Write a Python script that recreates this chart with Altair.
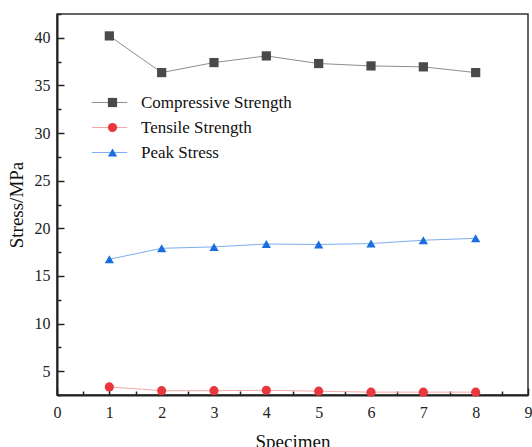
import altair as alt
import pandas as pd

specimen = [1, 2, 3, 4, 5, 6, 7, 8]
compressive = [40.2, 36.35, 37.4, 38.1, 37.3, 37.05, 36.95, 36.35]
tensile = [3.35, 2.95, 2.95, 3.0, 2.9, 2.8, 2.8, 2.8]
peak = [16.75, 17.9, 18.05, 18.35, 18.3, 18.4, 18.75, 18.95]

series = ["Compressive Strength", "Tensile Strength", "Peak Stress"]
marker_colors = ["#4a4a4a", "#e8383d", "#1a6fdc"]
line_colors = ["#8f8f8f", "#f6a8a8", "#7eaeee"]
shapes = ["square", "circle", "triangle-up"]

x_major = [0, 1, 2, 3, 4, 5, 6, 7, 8, 9]
x_minor = [0.5, 1.5, 2.5, 3.5, 4.5, 5.5, 6.5, 7.5, 8.5]
y_major = [5, 10, 15, 20, 25, 30, 35, 40]
y_minor = [2.5, 7.5, 12.5, 17.5, 22.5, 27.5, 32.5, 37.5, 42.5]

rows = []
for name, vals in zip(series, [compressive, tensile, peak]):
    for s, v in zip(specimen, vals):
        rows.append({"Specimen": s, "Stress": v, "Series": name, "Marker": name})
df = pd.DataFrame(rows)

FONT = "Liberation Serif"
xdom = [0, 9]
ydom = [2.5, 42.5]

base = alt.Chart(df)

# layer 1: lines + labelled axes
lines = base.mark_line(strokeWidth=1).encode(
    x=alt.X("Specimen:Q", scale=alt.Scale(domain=xdom, nice=False, zero=False),
            axis=alt.Axis(values=x_major, title="Specimen", orient="bottom", tickSize=0,
                          labelPadding=9, titlePadding=12, grid=False, domainWidth=2,
                          domainColor="#222222", labelFlush=False,
                          labelFont=FONT, titleFont=FONT)),
    y=alt.Y("Stress:Q", scale=alt.Scale(domain=ydom, nice=False, zero=False),
            axis=alt.Axis(values=y_major, title="Stress/MPa", orient="left", tickSize=0,
                          labelPadding=7, titlePadding=8, grid=False, domainWidth=2,
                          domainColor="#222222", labelFont=FONT, titleFont=FONT)),
    stroke=alt.Stroke("Series:N", sort=series,
                      scale=alt.Scale(domain=series, range=line_colors),
                      legend=alt.Legend(title=None, orient="none", legendX=44, legendY=80,
                                        symbolType="M-7.25,0H7.25", symbolSize=24,
                                        symbolStrokeWidth=1, labelExpr="''",
                                        labelFontSize=17, rowPadding=7, padding=0)),
)

# layer 2: markers + major inward ticks
points = base.mark_point(filled=True, size=85, opacity=1, strokeWidth=0).encode(
    x=alt.X("Specimen:Q", scale=alt.Scale(domain=xdom, nice=False, zero=False),
            axis=alt.Axis(values=x_major, orient="bottom", labels=False, domain=False,
                          title=None, tickSize=7, offset=-7, grid=False,
                          tickColor="#222222", tickWidth=1.5)),
    y=alt.Y("Stress:Q", scale=alt.Scale(domain=ydom, nice=False, zero=False),
            axis=alt.Axis(values=y_major, orient="left", labels=False, domain=False,
                          title=None, tickSize=7, offset=-7, grid=False,
                          tickColor="#222222", tickWidth=1.5)),
    fill=alt.Fill("Marker:N", sort=series,
                  scale=alt.Scale(domain=series, range=marker_colors),
                  legend=alt.Legend(title=None, orient="none", legendX=47, legendY=80,
                                    symbolSize=85, labelFontSize=17, labelFont=FONT,
                                    labelColor="#111111", rowPadding=7, padding=0,
                                    labelOffset=20, symbolStrokeWidth=0)),
    shape=alt.Shape("Marker:N", sort=series,
                    scale=alt.Scale(domain=series, range=shapes),
                    legend=alt.Legend(title=None, orient="none", legendX=47, legendY=80,
                                      symbolSize=85, labelFontSize=17, labelFont=FONT,
                                      labelColor="#111111", rowPadding=7, padding=0,
                                      labelOffset=20, symbolStrokeWidth=0)),
)

# layer 3: minor inward ticks (invisible marks)
minor = base.mark_point(opacity=0).encode(
    x=alt.X("Specimen:Q", scale=alt.Scale(domain=xdom, nice=False, zero=False),
            axis=alt.Axis(values=x_minor, orient="bottom", labels=False, domain=False,
                          title=None, tickSize=4, offset=-4, grid=False,
                          tickColor="#222222", tickWidth=1.5)),
    y=alt.Y("Stress:Q", scale=alt.Scale(domain=ydom, nice=False, zero=False),
            axis=alt.Axis(values=y_minor, orient="left", labels=False, domain=False,
                          title=None, tickSize=4, offset=-4, grid=False,
                          tickColor="#222222", tickWidth=1.5)),
)

chart = alt.layer(lines, points, minor).resolve_axis(x="independent", y="independent").resolve_legend(
    stroke="independent", fill="independent", shape="independent"
).properties(
    width=471, height=381,
    autosize=alt.AutoSizeParams(type="none"),
    padding={"left": 57, "top": 14, "right": 4, "bottom": 52},
    background="white",
).configure_view(
    stroke="#333333", strokeWidth=1.5
).configure_axis(
    labelFont=FONT, titleFont=FONT, labelFontSize=16, titleFontSize=19,
    labelColor="#222222", titleColor="#111111", titleFontWeight="normal",
).configure_legend(
    labelFont=FONT
)

chart.save("out.html", embed_options={"renderer": "svg", "actions": False})
